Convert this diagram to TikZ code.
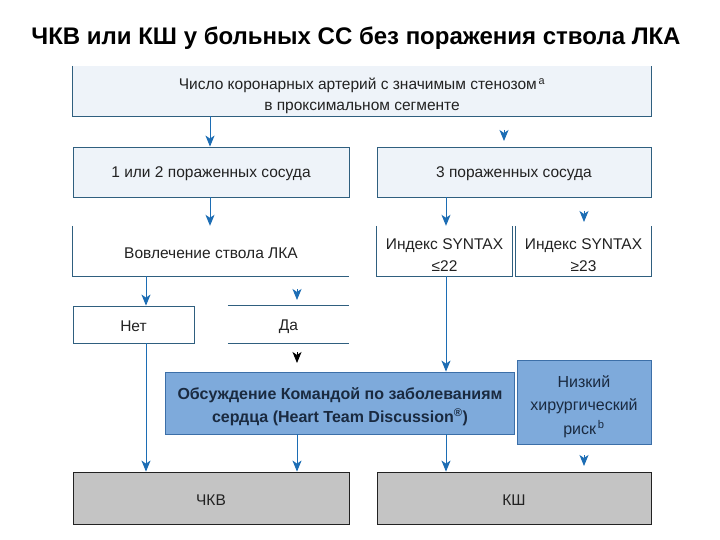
\documentclass[tikz,border=0pt]{standalone}
\usepackage{fontspec}
\setmainfont{Liberation Sans}
\usetikzlibrary{arrows.meta}
\definecolor{arrowblue}{HTML}{1C6DB4}
\definecolor{lineblue}{HTML}{2F5F7F}
\definecolor{paleblue}{HTML}{EEF3F9}
\definecolor{midblue}{HTML}{7EAADB}
\definecolor{midborder}{HTML}{3C6FA8}
\definecolor{greyfill}{HTML}{C4C4C4}
\definecolor{textdark}{HTML}{222222}
\definecolor{navytext}{HTML}{1A2A40}
\tikzset{
  txt/.style={font=\fontsize{15.5}{21}\selectfont, text=textdark, align=center, inner sep=0pt, yshift=-2pt},
  pale/.style={fill=paleblue, draw=none, inner sep=0pt},
  fullbox/.style={draw=lineblue, line width=0.8pt},
  edge/.style={draw=lineblue, line width=0.8pt},
  arr/.style={draw=arrowblue, line width=1pt, -{Stealth[length=11pt,width=9pt,inset=3pt]}},
}
\begin{document}
\begin{tikzpicture}[x=1pt,y=-1pt]
\useasboundingbox (0,0) rectangle (720,540);
\fill[white] (0,0) rectangle (720,540);

% title
\node[font=\bfseries\fontsize{24}{26}\selectfont, inner sep=0pt] (title) at (356,38) {ЧКВ или КШ у больных СС без поражения ствола ЛКА};

% top box (left, bottom, right borders)
\node[pale, minimum width=578pt, minimum height=50pt] (top) at (362,91) {};
\draw[edge] (top.north west) -- (top.south west) -- (top.south east) -- (top.north east);
\node[txt] (toptxt) at (362,94) {Число коронарных артерий с значимым стенозом\textsuperscript{\,a}\\в проксимальном сегменте};

% level 2
\node[pale, fullbox, minimum width=276pt, minimum height=50pt] (v12) at (211,172) {};
\node[txt] at (v12.center) {1 или 2 пораженных сосуда};
\node[pale, fullbox, minimum width=274pt, minimum height=50pt] (v3) at (514,172) {};
\node[txt] at (v3.center) {3 пораженных сосуда};

% level 3
\node[inner sep=0pt, minimum width=276pt, minimum height=50pt] (lka) at (211,251) {};
\draw[edge] (lka.north west) -- (lka.south west) -- (lka.south east);
\node[txt] at (lka.center) {Вовлечение ствола ЛКА};

\node[inner sep=0pt, minimum width=135pt, minimum height=50pt] (s22) at (444.5,251) {};
\draw[edge] (s22.north west) -- (s22.south west) -- (s22.south east) -- (s22.north east);
\node[txt, font=\fontsize{15.5}{22}\selectfont] at (444.5,253) {Индекс SYNTAX\\≤22};

\node[inner sep=0pt, minimum width=135pt, minimum height=50pt] (s23) at (583.5,251) {};
\draw[edge] (s23.north west) -- (s23.south west) -- (s23.south east) -- (s23.north east);
\node[txt, font=\fontsize{15.5}{22}\selectfont] at (583.5,253) {Индекс SYNTAX\\≥23};

% level 4
\node[fullbox, inner sep=0pt, minimum width=121pt, minimum height=37pt] (net) at (133.5,324.5) {};
\node[txt] at (net.center) {Нет};
\node[inner sep=0pt, minimum width=121pt, minimum height=37pt] (da) at (288.5,324.5) {};
\draw[edge] (da.north west) -- (da.north east);
\draw[edge] (da.south west) -- (da.south east);
\node[txt] at (da.center) {Да};

% heart team
\node[fill=midblue, draw=midborder, line width=0.8pt, inner sep=0pt, minimum width=349pt, minimum height=62pt] (heart) at (339.5,403) {};
\node[txt, text=navytext, font=\bfseries\fontsize{16}{23}\selectfont] at (340,404.5) {Обсуждение Командой по заболеваниям\\сердца (Heart Team Discussion\textsuperscript{®})};
\node[fill=midblue, draw=midborder, line width=0.8pt, inner sep=0pt, minimum width=134pt, minimum height=84pt] (risk) at (584,402) {};
\node[txt, text=navytext, font=\fontsize{16}{23.5}\selectfont] at (584,404.5) {Низкий\\хирургический\\риск\textsuperscript{\,b}};

% bottom
\node[fill=greyfill, draw=textdark, line width=0.8pt, inner sep=0pt, minimum width=276pt, minimum height=52pt] (pci) at (211,498) {};
\node[txt] at (pci.center) {ЧКВ};
\node[fill=greyfill, draw=textdark, line width=0.8pt, inner sep=0pt, minimum width=274pt, minimum height=52pt] (cabg) at (514,498) {};
\node[txt] at (cabg.center) {КШ};

% connectors
\draw[arr] (top.south -| 210,0) -- (v12.north -| 210,0);
\draw[arr] (v12.south -| 210,0) -- (lka.north -| 210,0);
\draw[arr] (v3.south -| 446,0) -- (s22.north -| 446,0);
\draw[arr] (lka.south -| 146,0) -- (net.north -| 146,0);
\draw[arr] (net.south -| 146,0) -- (pci.north -| 146,0);
\draw[arr] (s22.south -| 446,0) -- (heart.north -| 446,0);
\draw[arr] (heart.south -| 297,0) -- (pci.north -| 297,0);
\draw[arr] (heart.south -| 446,0) -- (cabg.north -| 446,0);

% arrowheads without lines
\coordinate (h1a) at (504,130); \coordinate (h1b) at (504,141);
\draw[arr] (h1a) -- (h1b);
\coordinate (h2a) at (584,211); \coordinate (h2b) at (584,222);
\draw[arr] (h2a) -- (h2b);
\coordinate (h3a) at (297,289); \coordinate (h3b) at (297,300);
\draw[arr] (h3a) -- (h3b);
\coordinate (h4a) at (297,352); \coordinate (h4b) at (297,363);
\draw[arr, draw=black] (h4a) -- (h4b);
\coordinate (h5a) at (584,455); \coordinate (h5b) at (584,466);
\draw[arr] (h5a) -- (h5b);
\end{tikzpicture}
\end{document}
